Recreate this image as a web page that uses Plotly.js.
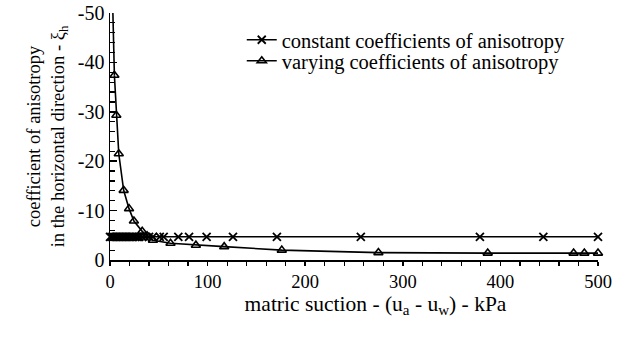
<!DOCTYPE html>
<html>
<head>
<meta charset="utf-8">
<script src="https://cdn.plot.ly/plotly-3.0.1.min.js"></script>
<style>html,body{margin:0;padding:0;background:#fff}#chart{width:626px;height:338px}</style>
</head>
<body>
<div id="chart"></div>
<script>
var constX = [0, 1.5, 3, 4.5, 6, 7.5, 9, 10.5, 12, 13.5, 15, 16.5, 18, 19.5, 21, 22.5, 24, 26, 28, 30, 33, 36, 40, 44, 51, 55, 70, 81, 99, 126, 171, 257, 379, 444, 500];
var constY = [-4.7, -4.7, -4.7, -4.7, -4.7, -4.7, -4.7, -4.7, -4.7, -4.7, -4.7, -4.7, -4.7, -4.7, -4.7, -4.7, -4.7, -4.7, -4.7, -4.7, -4.7, -4.7, -4.7, -4.7, -4.7, -4.7, -4.7, -4.7, -4.7, -4.7, -4.7, -4.7, -4.7, -4.7, -4.7];

var varX = [1.5, 4.5, 6.5, 9, 14, 19.5, 24.5, 33, 38, 44, 62, 88, 117, 176, 275, 387, 475, 486, 500];
var varY = [-62, -37.4, -29.3, -21.5, -14.1, -10.4, -7.9, -5.8, -4.9, -4.0, -3.4, -3.0, -2.7, -2.0, -1.5, -1.4, -1.4, -1.4, -1.4];

var xTicks = [0, 100, 200, 300, 400, 500];
var yTicks = [0, -10, -20, -30, -40, -50];
var yTickText = ['0', '-10', '-20', '-30', '-40', '-50'];

var names = ['constant coefficients of anisotropy', 'varying coefficients of anisotropy'];

var traces = [
  {
    x: constX, y: constY, name: names[0], mode: 'lines+markers', type: 'scatter',
    line: {color: '#000', width: 1.6},
    marker: {symbol: 'x-thin', size: 8, line: {color: '#000', width: 1.8}},
    cliponaxis: false, legend: 'legend'
  },
  {
    x: varX.slice(0, 2), y: varY.slice(0, 2), mode: 'lines', type: 'scatter', showlegend: false,
    line: {color: '#000', width: 1.6}, hoverinfo: 'skip'
  },
  {
    x: varX.slice(1), y: varY.slice(1), name: names[1], mode: 'lines+markers', type: 'scatter',
    line: {color: '#000', width: 1.6},
    marker: {symbol: 'triangle-up-open', size: 8, color: '#000', line: {color: '#000', width: 1.6}},
    cliponaxis: false, legend: 'legend2'
  }
];

var fam = 'Liberation Serif';
var legFont = {family: fam, size: 20.5, color: '#000'};

var layout = {
  width: 626, height: 338,
  margin: {l: 110, r: 28, t: 13, b: 78},
  paper_bgcolor: '#fff', plot_bgcolor: '#fff',
  font: {family: fam, color: '#000', size: 17},
  showlegend: true,
  legend: {
    x: 0.27, y: 0.891, xanchor: 'left', yanchor: 'middle',
    bgcolor: 'rgba(0,0,0,0)', borderwidth: 0, font: legFont, itemwidth: 30
  },
  legend2: {
    x: 0.27, y: 0.806, xanchor: 'left', yanchor: 'middle',
    bgcolor: 'rgba(0,0,0,0)', borderwidth: 0, font: legFont, itemwidth: 30
  },
  xaxis: {
    range: [0, 500], tickvals: xTicks, ticktext: xTicks.map(String),
    showgrid: false, zeroline: false, showline: true, linecolor: '#000', linewidth: 1.5,
    ticks: 'outside', ticklen: 4, tickwidth: 1.5, tickcolor: '#000',
    minor: {dtick: 20, ticks: 'outside', ticklen: 4, tickwidth: 1.2, tickcolor: '#000', showgrid: false},
    tickfont: {family: fam, size: 18.5, color: '#000'},
    title: {text: '&nbsp;&nbsp;&nbsp;&nbsp;&nbsp;&nbsp;&nbsp;&nbsp;matric suction - (u<sub>a</sub> - u<sub>w</sub>) - kPa', font: {family: fam, size: 21.5, color: '#000'}, standoff: 0}
  },
  yaxis: {
    range: [0, -50], tickvals: yTicks, ticktext: yTickText,
    showgrid: false, zeroline: false, showline: true, linecolor: '#000', linewidth: 1.5,
    ticks: 'inside', ticklen: 7, tickwidth: 1.5, tickcolor: '#000',
    minor: {dtick: 2, ticks: 'inside', ticklen: 5, tickwidth: 1.2, tickcolor: '#000', showgrid: false},
    tickfont: {family: fam, size: 20, color: '#000'},
    title: {text: 'coefficient of anisotropy<br>in the horizontal direction - ξ<sub>h</sub>', font: {family: fam, size: 18.5, color: '#000'}, standoff: 8}
  }
};

Plotly.newPlot('chart', traces, layout, {displayModeBar: false, staticPlot: true});
</script>
</body>
</html>
